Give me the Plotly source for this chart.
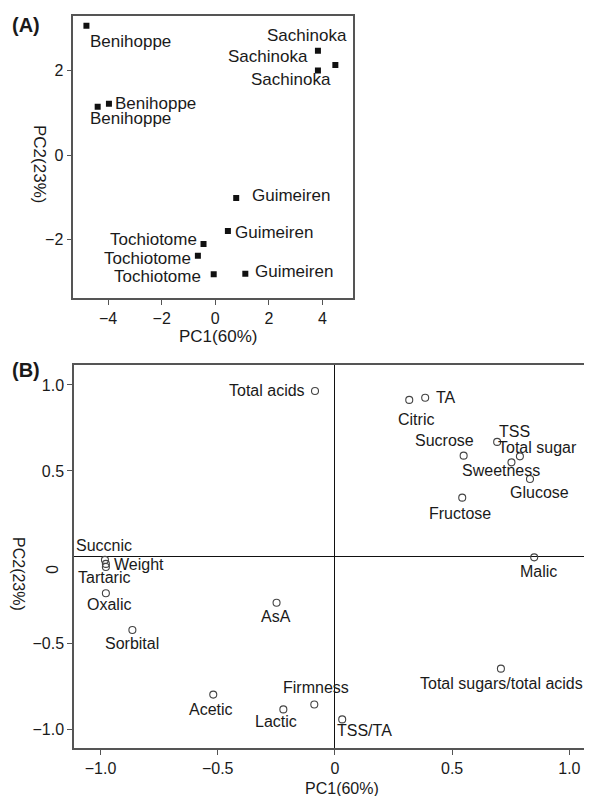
import plotly.graph_objects as go

# ---------------- data ----------------
# Panel A: cultivar scores
a_names = ["Benihoppe", "Benihoppe", "Benihoppe",
           "Sachinoka", "Sachinoka", "Sachinoka",
           "Guimeiren", "Guimeiren", "Guimeiren",
           "Tochiotome", "Tochiotome", "Tochiotome"]
a_pc1 = [-4.81, -3.97, -4.39, 3.83, 4.48, 3.83, 0.78, 0.47, 1.12, -0.44, -0.65, -0.06]
a_pc2 = [3.07, 1.22, 1.15, 2.48, 2.14, 2.01, -1.02, -1.80, -2.82, -2.11, -2.39, -2.83]

# Panel B: variable loadings
b_names = ["Total acids", "Citric", "TA", "Sucrose", "TSS", "Total sugar", "Sweetness",
           "Glucose", "Fructose", "Malic", "Succnic", "Weight", "Tartaric", "Oxalic",
           "Sorbital", "AsA", "Acetic", "Lactic", "Firmness", "TSS/TA",
           "Total sugars/total acids"]
b_pc1 = [-0.085, 0.317, 0.385, 0.549, 0.692, 0.789, 0.753, 0.832, 0.543, 0.850, -0.981,
         -0.977, -0.977, -0.977, -0.864, -0.249, -0.519, -0.220, -0.088, 0.031, 0.708]
b_pc2 = [0.965, 0.913, 0.926, 0.589, 0.669, 0.585, 0.550, 0.453, 0.345, -0.002, -0.017,
         -0.040, -0.058, -0.211, -0.424, -0.266, -0.800, -0.886, -0.857, -0.944, -0.649]

a_xticks = [-4, -2, 0, 2, 4]
a_yticks = [-2, 0, 2]
b_ticks = [-1.0, -0.5, 0.5, 1.0]
b_xticks = [-1.0, -0.5, 0, 0.5, 1.0]
b_xticktext = ["\u22121.0", "\u22120.5", "0", "0.5", "1.0"]
b_yticktext = ["\u22121.0", "\u22120.5", "0.5", "1.0"]

# ---------------- label placement (style) ----------------
a_lab = [("left", 2, -16), ("left", 4, 0), ("left", -10, -12.3),
         ("right", -7.7, -6), ("right", 14, 29), ("center", -27.4, -9.3),
         ("left", 14, 2.7), ("left", 5, -2), ("left", 7.7, 2.6),
         ("right", -5, 4.7), ("right", -4.4, -3), ("right", -10.6, -2.7)]
b_lab = [("right", -8, 0), ("center", 7, -20), ("left", 9, 0), ("center", -19, 14.7),
         ("center", 17, 10.3), ("center", 17.5, 8.6), ("center", -10, -7.7),
         ("center", 9.3, -13.3), ("center", -1.8, -15.6), ("center", 4.7, -14.4),
         ("center", -1, 14.3), ("left", 5.7, -1), ("center", -2, -11),
         ("center", 3.5, -11), ("center", 0, -14), ("center", -1, -13.3),
         ("center", -2, -14.6), ("center", -7.3, -12.4), ("center", 2, 17),
         ("center", 22.4, -11.4), ("center", 1, -15.3)]

# the page body adds an 8px margin, so the figure is drawn 8px smaller and
# every reference pixel position is mapped through that offset
OFF = 8
W, H = 592 - OFF, 796 - OFF
FONT = "Liberation Sans, Arial, sans-serif"
TXT = "#1a1a1a"
BOX = "#555555"


def px(x):
    return (x - OFF) / W


def py(y):
    return 1 - (y - OFF) / H


fig = go.Figure()
fig.add_trace(go.Scatter(x=a_pc1, y=a_pc2, mode="markers", xaxis="x", yaxis="y",
                         marker=dict(symbol="square", size=6, color="#111111"),
                         hoverinfo="text", text=a_names, showlegend=False))
fig.add_trace(go.Scatter(x=b_pc1, y=b_pc2, mode="markers", xaxis="x2", yaxis="y2",
                         marker=dict(symbol="circle-open", size=7, color="#444444",
                                     line=dict(width=1.1)),
                         hoverinfo="text", text=b_names, showlegend=False))

ann = []
for n, x, y, (anc, xs, ys) in zip(a_names, a_pc1, a_pc2, a_lab):
    ann.append(dict(x=x, y=y, xref="x", yref="y", text=n, showarrow=False,
                    xanchor=anc, yanchor="middle", xshift=xs, yshift=ys,
                    font=dict(size=17, color=TXT, family=FONT)))
for n, x, y, (anc, xs, ys) in zip(b_names, b_pc1, b_pc2, b_lab):
    ann.append(dict(x=x, y=y, xref="x2", yref="y2", text=n, showarrow=False,
                    xanchor=anc, yanchor="middle", xshift=xs, yshift=ys,
                    font=dict(size=16, color=TXT, family=FONT)))

# panel tags and axis titles
ann += [
    dict(x=px(26), y=py(25), xref="paper", yref="paper", text="<b>(A)</b>", showarrow=False,
         xanchor="center", yanchor="middle", font=dict(size=20, color=TXT, family=FONT)),
    dict(x=px(26), y=py(370), xref="paper", yref="paper", text="<b>(B)</b>", showarrow=False,
         xanchor="center", yanchor="middle", font=dict(size=20, color=TXT, family=FONT)),
    dict(x=px(218), y=py(336), xref="paper", yref="paper", text="PC1(60%)", showarrow=False,
         xanchor="center", yanchor="middle", font=dict(size=17, color=TXT, family=FONT)),
    dict(x=px(40), y=py(164), xref="paper", yref="paper", text="PC2(23%)", showarrow=False,
         textangle=90, xanchor="center", yanchor="middle",
         font=dict(size=17, color=TXT, family=FONT)),
    dict(x=px(342), y=py(788), xref="paper", yref="paper", text="PC1(60%)", showarrow=False,
         xanchor="center", yanchor="middle", font=dict(size=16, color=TXT, family=FONT)),
    dict(x=px(19), y=py(574), xref="paper", yref="paper", text="PC2(23%)", showarrow=False,
         textangle=90, xanchor="center", yanchor="middle",
         font=dict(size=16, color=TXT, family=FONT)),
    dict(x=px(52), y=py(569), xref="paper", yref="paper", text="0", showarrow=False,
         textangle=90, xanchor="center", yanchor="middle",
         font=dict(size=16, color=TXT, family=FONT)),
]

axis_common = dict(showgrid=False, showline=True, linecolor=BOX, linewidth=1.5, mirror=True,
                   ticks="outside", ticklen=5, tickwidth=1.2, tickcolor=BOX,
                   tickfont=dict(size=16, color=TXT, family=FONT), zeroline=False)
zero_style = {"zeroline": True, "zerolinecolor": "#111111", "zerolinewidth": 1.3}

fig.update_layout(
    width=W, height=H,
    margin=dict(l=0, r=0, t=0, b=0, autoexpand=False),
    paper_bgcolor="white", plot_bgcolor="white",
    font=dict(family=FONT, color=TXT),
    xaxis=dict(domain=[px(73.3), px(353.3)], range=[-5.3, 5.15], anchor="y",
               tickvals=a_xticks, **axis_common),
    yaxis=dict(domain=[py(298.3), py(15.7)], range=[-3.4, 3.31], anchor="x",
               tickvals=a_yticks, **axis_common),
    xaxis2=dict(domain=[px(74), px(590)], range=[-1.113, 1.088], anchor="y2",
                tickvals=b_xticks, ticktext=b_xticktext, **{**axis_common, **zero_style}),
    yaxis2=dict(domain=[py(748.3), py(365)], range=[-1.112, 1.116], anchor="x2",
                tickvals=b_ticks, ticktext=b_yticktext, **{**axis_common, **zero_style}),
    annotations=ann,
    showlegend=False,
)

fig.write_html("out.html")
